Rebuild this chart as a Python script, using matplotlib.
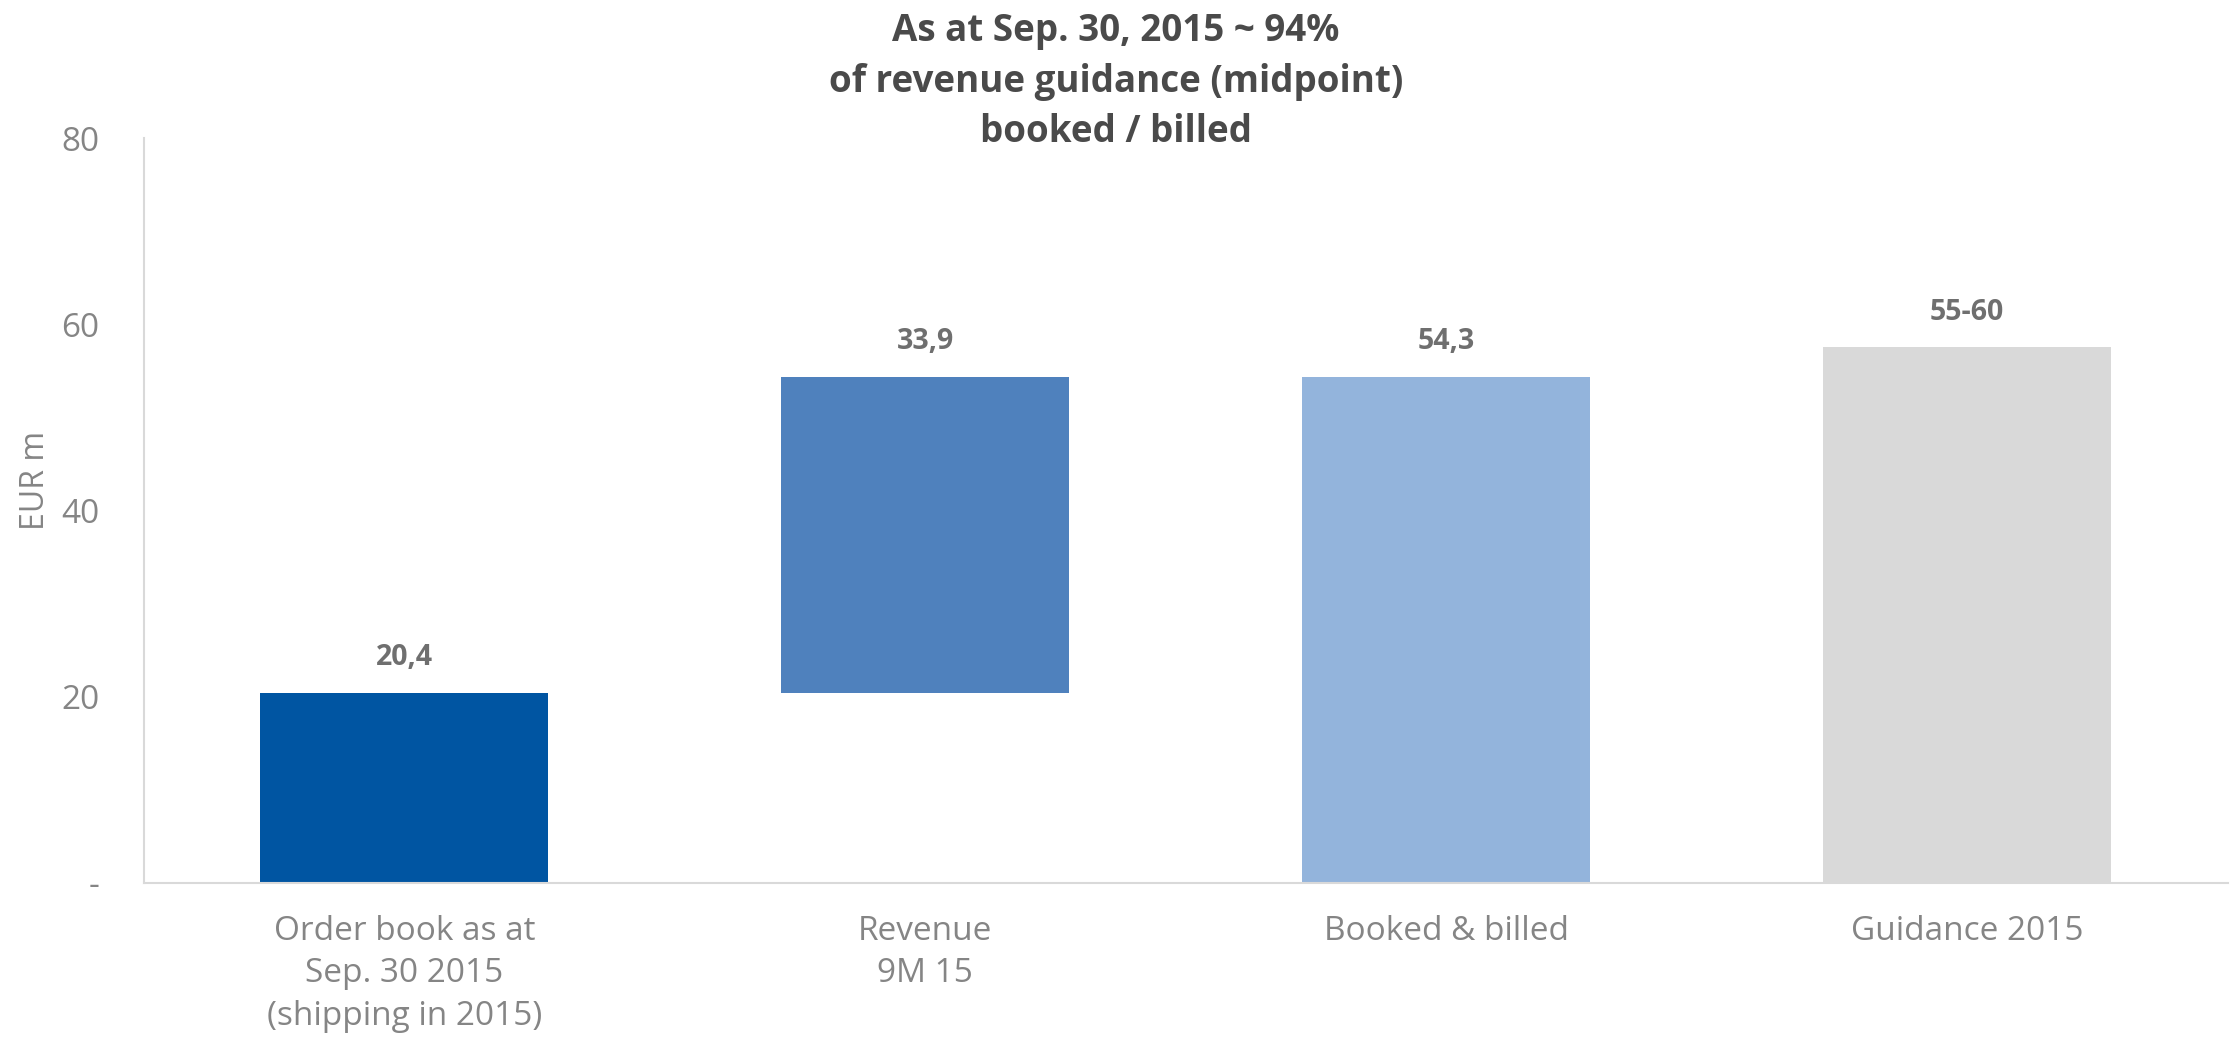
import matplotlib
matplotlib.use("Agg")
import matplotlib.pyplot as plt
from matplotlib import font_manager

# Data (EUR m)
categories = ["Order book as at\nSep. 30 2015\n(shipping in 2015)", "Revenue\n9M 15",
              "Booked & billed", "Guidance 2015"]
bar_bottoms = [0.0, 20.4, 0.0, 0.0]
bar_heights = [20.4, 33.9, 54.3, 57.5]
value_labels = ["20,4", "33,9", "54,3", "55-60"]
bar_colors = ["#0055A2", "#4F81BD", "#93B4DC", "#D9D9D9"]
y_ticks = [0, 20, 40, 60, 80]
y_tick_labels = ["-", "20", "40", "60", "80"]
title = "As at Sep. 30, 2015 ~ 94%\nof revenue guidance (midpoint)\nbooked / billed"

names = {f.name for f in font_manager.fontManager.ttflist}
base_font = "Open Sans" if "Open Sans" in names else "DejaVu Sans"
narrow_font = "Liberation Sans Narrow" if "Liberation Sans Narrow" in names else base_font

plt.rcParams["font.family"] = [base_font, "DejaVu Sans"]

fig = plt.figure(figsize=(22.32, 10.4), dpi=100)
ax = fig.add_axes([0.0645, 0.1513, 0.9335, 0.716])

x = list(range(len(categories)))
ax.bar(x, bar_heights, bottom=bar_bottoms, width=0.553, color=bar_colors, zorder=2)

for xi, b, h, lab in zip(x, bar_bottoms, bar_heights, value_labels):
    ax.annotate(lab, (xi, b + h), xytext=(0, 15), textcoords="offset points",
                ha="center", va="bottom", fontsize=20.5, fontweight="bold",
                color="#6F6F6F", family=[narrow_font, base_font])

ax.set_xlim(-0.5, 3.5)
ax.set_ylim(0, 80)
ax.set_yticks(y_ticks)
ax.set_yticklabels(y_tick_labels)
ax.set_xticks(x)
ax.set_xticklabels(categories, linespacing=1.38)
ax.tick_params(axis="y", length=0, pad=32, labelsize=24, labelcolor="#858585")
ax.tick_params(axis="x", length=0, pad=23, labelsize=24, labelcolor="#858585")

for side in ("top", "right"):
    ax.spines[side].set_visible(False)
for side in ("left", "bottom"):
    ax.spines[side].set_color("#D9D9D9")
    ax.spines[side].set_linewidth(1.5)

ax.set_ylabel("EUR m", fontsize=23, color="#858585")
ax.yaxis.set_label_coords(-0.044, 0.54)

fig.text(0.5, 0.988, title, ha="center", va="top", fontsize=26.5, fontweight="bold",
         color="#4A4A4A", linespacing=1.42, family=[narrow_font, base_font])

fig.savefig("out.png", dpi=100)
